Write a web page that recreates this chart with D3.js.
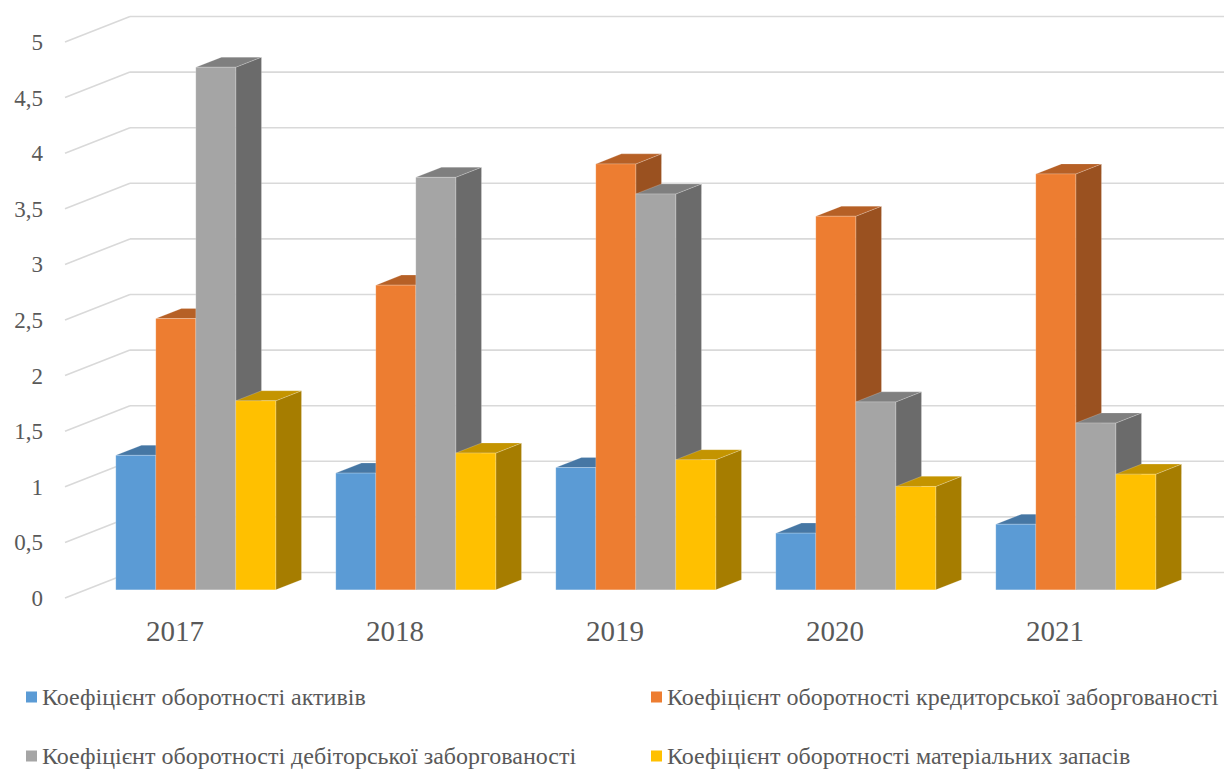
<!DOCTYPE html>
<html>
<head>
<meta charset="utf-8">
<script src="https://cdn.jsdelivr.net/npm/d3@7"></script>
<style>
  body { margin: 0; background: #ffffff; }
  svg { display: block; }
</style>
</head>
<body>
<svg id="chart" width="1224" height="773"></svg>
<script>
// Categories (years) and the four turnover ratios
const years = ["2017", "2018", "2019", "2020", "2021"];
const seriesNames = [
  "Коефіцієнт оборотності активів",
  "Коефіцієнт оборотності кредиторської заборгованості",
  "Коефіцієнт оборотності дебіторської заборгованості",
  "Коефіцієнт оборотності матеріальних запасів"
];
const assetTurnover       = [1.21, 1.05, 1.10, 0.51, 0.59];
const payablesTurnover    = [2.44, 2.74, 3.83, 3.36, 3.74];
const receivablesTurnover = [4.70, 3.71, 3.56, 1.69, 1.50];
const inventoryTurnover   = [1.70, 1.23, 1.17, 0.93, 1.04];
const yTicks      = [0, 0.5, 1, 1.5, 2, 2.5, 3, 3.5, 4, 4.5, 5];
const yTickLabels = ["0", "0,5", "1", "1,5", "2", "2,5", "3", "3,5", "4", "4,5", "5"];
const seriesColors = ["#5b9bd5", "#ed7d31", "#a5a5a5", "#ffc000"];

const seriesValues = [assetTurnover, payablesTurnover, receivablesTurnover, inventoryTurnover];

const svg = d3.select("#chart");
const W = 1224;

// Oblique 3D frame: front plane origin, depth vector towards the back wall
const floorFrontY = 598;
const frontLeftX = 65;
const depth = { dx: 65, dy: -25.5 };
const barDepthStart = 0.32, barDepthEnd = 0.715;

const yScale = d3.scaleLinear().domain([0, 5]).range([0, 556]);
const xBand = d3.scaleBand().domain(years).range([frontLeftX, frontLeftX + 1100]).padding(0);
const xInner = d3.scaleBand().domain(d3.range(seriesNames.length)).range([30, 190]).padding(0);

const shade = (c, k) => {
  const r = d3.rgb(c);
  return d3.rgb(r.r * k, r.g * k, r.b * k).formatHex();
};

// Gridlines: back wall + left side wall
const grid = svg.append("g").attr("stroke", "#d9d9d9").attr("stroke-width", 1.6).attr("fill", "none");
yTicks.forEach(v => {
  const fy = floorFrontY - yScale(v);
  const bx = frontLeftX + depth.dx, by = fy + depth.dy;
  grid.append("line").attr("x1", frontLeftX).attr("y1", fy).attr("x2", bx).attr("y2", by);
  grid.append("line").attr("x1", bx).attr("y1", by).attr("x2", W + 10).attr("y2", by);
});

// Value axis labels
svg.append("g").selectAll("text").data(yTicks).join("text")
  .attr("x", 43)
  .attr("y", v => floorFrontY - yScale(v) + 8)
  .attr("text-anchor", "end")
  .attr("font-family", "'Liberation Serif', 'Times New Roman', serif")
  .attr("font-size", 23)
  .attr("fill", "#595959")
  .text((v, i) => yTickLabels[i]);

// Bars
const bars = [];
years.forEach((yr, ci) => {
  seriesValues.forEach((vals, si) => bars.push({ yr, si, v: vals[ci] }));
});

const ox = depth.dx * barDepthStart, oy = depth.dy * barDepthStart;
const ddx = depth.dx * (barDepthEnd - barDepthStart), ddy = depth.dy * (barDepthEnd - barDepthStart);
const bw = xInner.bandwidth();

const barG = svg.append("g");
bars.forEach(b => {
  const X = xBand(b.yr) + xInner(b.si) + ox;
  const base = floorFrontY + oy;
  const h = yScale(b.v);
  const top = base - h;
  const col = seriesColors[b.si];
  const g = barG.append("g");
  // right side face
  g.append("polygon")
    .attr("points", [[X + bw, top], [X + bw + ddx, top + ddy], [X + bw + ddx, base + ddy], [X + bw, base]].join(" "))
    .attr("fill", shade(col, 0.65));
  // top face
  g.append("polygon")
    .attr("points", [[X, top], [X + bw, top], [X + bw + ddx, top + ddy], [X + ddx, top + ddy]].join(" "))
    .attr("fill", shade(col, 0.77));
  // front face
  g.append("rect")
    .attr("x", X).attr("y", top).attr("width", bw).attr("height", h)
    .attr("fill", col);
  g.selectAll("*").attr("stroke", "#ffffff").attr("stroke-opacity", 0.25).attr("stroke-width", 0.8);
});

// Category labels on the front edge of the floor
svg.append("g").selectAll("text").data(years).join("text")
  .attr("x", d => xBand(d) + xBand.bandwidth() / 2)
  .attr("y", 641)
  .attr("text-anchor", "middle")
  .attr("font-family", "'Liberation Serif', 'Times New Roman', serif")
  .attr("font-size", 29)
  .attr("fill", "#595959")
  .text(d => d);

// Legend, two columns by two rows
const legendCols = [26, 651];
const legendRows = [697, 756];
const legend = svg.append("g");
seriesNames.forEach((name, i) => {
  const lx = legendCols[i % 2], ly = legendRows[Math.floor(i / 2)];
  legend.append("rect")
    .attr("x", lx).attr("y", ly - 5.5).attr("width", 11).attr("height", 11)
    .attr("fill", seriesColors[i]);
  legend.append("text")
    .attr("x", lx + 16).attr("y", ly + 8)
    .attr("font-family", "'Liberation Serif', 'Times New Roman', serif")
    .attr("font-size", 24)
    .attr("fill", "#595959")
    .text(name);
});
</script>
</body>
</html>
